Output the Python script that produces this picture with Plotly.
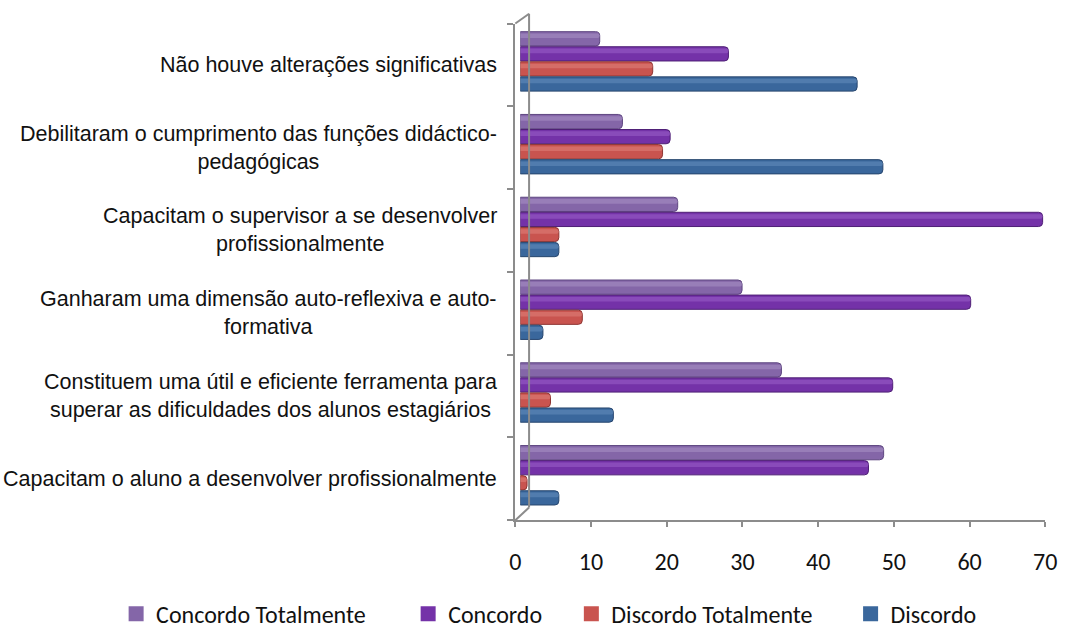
import plotly.graph_objects as go

# Survey categories, bottom to top
categories = [
    "Capacitam o aluno a desenvolver profissionalmente",
    "Constituem uma útil e eficiente ferramenta para superar as dificuldades dos alunos estagiários",
    "Ganharam uma dimensão auto-reflexiva e auto-formativa",
    "Capacitam o supervisor a se desenvolver profissionalmente",
    "Debilitaram o cumprimento das funções didáctico-pedagógicas",
    "Não houve alterações significativas",
]
category_labels = [
    "Capacitam o aluno a desenvolver profissionalmente",
    "Constituem uma útil e eficiente ferramenta para<br>superar as dificuldades dos alunos estagiários",
    "Ganharam uma dimensão auto-reflexiva e auto-<br>formativa",
    "Capacitam o supervisor a se desenvolver<br>profissionalmente",
    "Debilitaram o cumprimento das funções didáctico-<br>pedagógicas",
    "Não houve alterações significativas",
]

# Percentages per answer
concordo_totalmente = [48.0, 34.5, 29.3, 20.8, 13.5, 10.5]
concordo = [46.0, 49.2, 59.5, 69.0, 19.8, 27.5]
discordo_totalmente = [0.9, 4.0, 8.2, 5.1, 18.8, 17.5]
discordo = [5.1, 12.3, 3.0, 5.1, 47.9, 44.5]

x_ticks = [0, 10, 20, 30, 40, 50, 60, 70]

# name, values, base colour, highlight, edge, slot index (0 = lowest in group), legend id, legend x (px)
series = [
    ("Concordo Totalmente", concordo_totalmente, "#8466A8", "#B29BCB", "#5E4680", 3, "legend", 126),
    ("Concordo", concordo, "#7432A8", "#A46BD0", "#4E1F75", 2, "legend2", 423),
    ("Discordo Totalmente", discordo_totalmente, "#C9544F", "#E58B86", "#8E3532", 1, "legend3", 589),
    ("Discordo", discordo, "#3A679C", "#6F96C6", "#27466E", 0, "legend4", 873),
]

W, H = 1073, 637
# front plane of the plot (pixels)
fx0, fx1 = 518, 1057
fy_top, fy_bot = 24, 531
# bars sit slightly back in depth
dx, dy = 5, 4


def px_x(p):
    return p / W


def px_y(p):
    return (H - p) / H


slot = 0.182
bar_w = 0.172
start = -2 * slot

fig = go.Figure()

# invisible trace that carries the category axis of the front plane
fig.add_trace(go.Scatter(
    x=[0] * len(categories), y=categories, mode="markers",
    marker=dict(opacity=0), hoverinfo="skip", showlegend=False,
    xaxis="x", yaxis="y",
))

for name, vals, col, light, dark, idx, leg, lx in series:
    off = start + idx * slot
    fig.add_trace(go.Bar(
        name=name, x=vals, y=categories, orientation="h",
        width=bar_w, offset=off, legendgroup=name, showlegend=False,
        marker=dict(color=col, line=dict(color=dark, width=1), cornerradius=4),
        xaxis="x2", yaxis="y2", hoverinfo="x+name",
    ))

# highlight band on the upper half of each bar for a rounded look
for name, vals, col, light, dark, idx, leg, lx in series:
    off = start + idx * slot
    fig.add_trace(go.Bar(
        x=vals, y=categories, orientation="h",
        width=bar_w * 0.32, offset=off + bar_w * 0.55, legendgroup=name,
        marker=dict(color=light, opacity=0.45, line=dict(width=0), cornerradius=3),
        xaxis="x2", yaxis="y2", hoverinfo="skip", showlegend=False,
    ))

# square legend keys, one legend per entry
for name, vals, col, light, dark, idx, leg, lx in series:
    fig.add_trace(go.Scatter(
        x=[None], y=[None], mode="markers", name=name, legendgroup=name,
        marker=dict(symbol="square", size=15, color=col, line=dict(width=0)),
        legend=leg, xaxis="x2", yaxis="y2", hoverinfo="skip",
    ))

for lab, cat in zip(category_labels, categories):
    fig.add_annotation(
        x=px_x(501), xref="paper", xanchor="right",
        y=cat, yref="y", yanchor="middle",
        text=lab, showarrow=False, align="center",
        font=dict(family="Arial, Liberation Sans", size=21.5, color="#111111"),
    )

axis_col = "#8C8C8C"
# 3-D wall outline: back vertical edge and the two connecting diagonals
fig.add_shape(type="line", xref="paper", yref="paper",
              x0=px_x(fx0 + 14), y0=px_y(fy_top - 10), x1=px_x(fx0 + 14), y1=px_y(fy_bot - 13),
              line=dict(color=axis_col, width=2))
fig.add_shape(type="line", xref="paper", yref="paper",
              x0=px_x(fx0), y0=px_y(fy_top), x1=px_x(fx0 + 14), y1=px_y(fy_top - 10),
              line=dict(color=axis_col, width=2))
fig.add_shape(type="line", xref="paper", yref="paper",
              x0=px_x(fx0), y0=px_y(fy_bot), x1=px_x(fx0 + 14), y1=px_y(fy_bot - 13),
              line=dict(color=axis_col, width=2))

tick_font = dict(family="Carlito, Lato, Liberation Sans", size=24, color="#111111")

legends = {}
for name, vals, col, light, dark, idx, leg, lx in series:
    legends[leg] = dict(
        orientation="h", x=px_x(lx - 14), xanchor="left",
        y=px_y(627), yanchor="middle", font=tick_font,
        itemsizing="trace", bgcolor="rgba(0,0,0,0)", borderwidth=0,
    )

fig.update_layout(
    width=W, height=H,
    margin=dict(l=0, r=0, t=0, b=0),
    paper_bgcolor="white", plot_bgcolor="rgba(0,0,0,0)",
    barmode="overlay",
    showlegend=True,
    xaxis=dict(
        domain=[px_x(fx0), px_x(fx1)], range=[0, 70], tickvals=x_ticks,
        showline=True, linecolor=axis_col, linewidth=2,
        ticks="outside", ticklen=5, tickcolor=axis_col, tickwidth=2,
        showgrid=False, zeroline=False, tickfont=tick_font,
        ticklabelstandoff=14, anchor="y", fixedrange=True,
    ),
    yaxis=dict(
        domain=[px_y(fy_bot), px_y(fy_top)], type="category",
        categoryarray=categories, categoryorder="array", range=[-0.5, 5.5],
        showline=True, linecolor=axis_col, linewidth=2,
        ticks="outside", ticklen=6, tickcolor=axis_col, tickwidth=2,
        tickson="boundaries", showticklabels=False, showgrid=False,
        anchor="x", fixedrange=True,
    ),
    xaxis2=dict(
        domain=[px_x(fx0 + dx), px_x(fx1 + dx)], range=[0, 70],
        visible=False, anchor="y2", fixedrange=True,
    ),
    yaxis2=dict(
        domain=[px_y(fy_bot - dy), px_y(fy_top - dy)], type="category",
        categoryarray=categories, categoryorder="array", range=[-0.5, 5.5],
        visible=False, anchor="x2", fixedrange=True,
    ),
    **legends,
)

fig.write_html("out.html")
